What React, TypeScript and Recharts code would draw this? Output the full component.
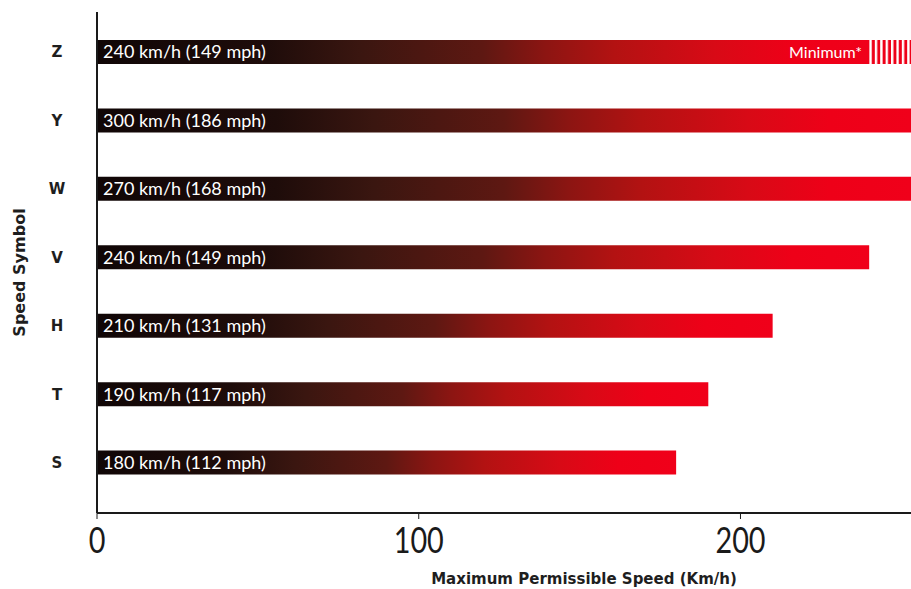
import { Bar, BarChart, LabelList, XAxis, YAxis } from "recharts"

const symbols = ["Z", "Y", "W", "V", "H", "T", "S"]
const speeds = [240, 300, 270, 240, 210, 190, 180]
const speedLabels = [
  "240 km/h (149 mph)",
  "300 km/h (186 mph)",
  "270 km/h (168 mph)",
  "240 km/h (149 mph)",
  "210 km/h (131 mph)",
  "190 km/h (117 mph)",
  "180 km/h (112 mph)",
]
// Z is open ended: the rated speed is a minimum, drawn as a striped tail
const openEnded = [60, 0, 0, 0, 0, 0, 0]
const notes = ["Minimum*", "", "", "", "", "", ""]
const xTicks = [0, 100, 200]

const data = symbols.map((s, i) => ({
  symbol: s,
  speed: speeds[i],
  extra: openEnded[i],
  label: speedLabels[i],
  note: notes[i],
}))

const font = "Lato, 'Open Sans', sans-serif"
const boldFont = "'DejaVu Sans', sans-serif"

function SymbolTick({ x, y, payload }: any) {
  return (
    <text x={x} y={y} dy="0.35em" textAnchor="middle" fontFamily={boldFont} fontWeight={700} fontSize={15} fill="#1e1e1e">
      {payload.value}
    </text>
  )
}

// narrow, tall numerals like the original print
function SpeedTick({ x, y, payload }: any) {
  return (
    <g transform={`translate(${x},${y})`}>
      <text transform="scale(0.8,1)" x={0} y={34} textAnchor="middle" fontFamily={font} fontSize={36} fill="#1a1a1a">
        {payload.value}
      </text>
    </g>
  )
}

function NoteLabel({ x, y, height, value }: any) {
  if (!value) return null
  return (
    <text x={x - 7} y={y + height / 2} dy="0.35em" textAnchor="end" fontFamily={font} fontSize={16} fill="#fff">
      {value}
    </text>
  )
}

export default function App() {
  return (
    <div style={{ position: "absolute", left: 0, top: 0, background: "#fff" }}>
      <BarChart
        width={911}
        height={589}
        data={data}
        layout="vertical"
        margin={{ top: 12, right: 0, bottom: 0, left: 0 }}
        barSize={24}
      >
        <defs>
          <linearGradient id="speedGrad" x1="0" y1="0" x2="1" y2="0">
            <stop offset="0%" stopColor="#100606" />
            <stop offset="22%" stopColor="#1e0c0a" />
            <stop offset="34%" stopColor="#3a1610" />
            <stop offset="50%" stopColor="#5e1812" />
            <stop offset="58%" stopColor="#8c1512" />
            <stop offset="67%" stopColor="#b31212" />
            <stop offset="80%" stopColor="#d80a16" />
            <stop offset="90%" stopColor="#ee0018" />
            <stop offset="100%" stopColor="#f0001a" />
          </linearGradient>
          <pattern id="stripes" width="5.4" height="10" patternUnits="userSpaceOnUse">
            <rect x="0" y="0" width="5.4" height="10" fill="#fff" />
            <rect x="2.4" y="0" width="3" height="10" fill="#ee0018" />
          </pattern>
        </defs>
        <XAxis
          type="number"
          domain={[0, 253]}
          allowDataOverflow
          ticks={xTicks}
          height={76}
          axisLine={{ stroke: "#1a1a1a", strokeWidth: 2 }}
          tickLine={{ stroke: "#1a1a1a" }}
          tickSize={6}
          tickMargin={0}
          tick={<SpeedTick />}
          label={{
            value: "Maximum Permissible Speed (Km/h)",
            position: "insideBottom",
            offset: 5,
            dx: 80,
            fontFamily: boldFont,
            fontWeight: 700,
            fontSize: 15,
            fill: "#1e1e1e",
          }}
        />
        <YAxis
          type="category"
          dataKey="symbol"
          width={97}
          padding={{ top: 6, bottom: 16 }}
          axisLine={{ stroke: "#1a1a1a", strokeWidth: 2 }}
          tickLine={false}
          tickSize={0}
          tickMargin={40}
          tick={<SymbolTick />}
          label={{
            content: ({ viewBox }: any) => {
              const cy = viewBox.y + viewBox.height / 2 + 10
              return (
                <text
                  x={19}
                  y={cy}
                  transform={`rotate(-90, 19, ${cy})`}
                  textAnchor="middle"
                  dy="0.35em"
                  fontFamily={boldFont}
                  fontWeight={700}
                  fontSize={16}
                  fill="#1e1e1e"
                >
                  Speed Symbol
                </text>
              )
            },
          }}
        />
        <Bar dataKey="speed" stackId="a" fill="url(#speedGrad)" isAnimationActive={false}>
          <LabelList dataKey="label" position="insideLeft" offset={6} fill="#fff" fontFamily={font} fontSize={18} />
        </Bar>
        <Bar dataKey="extra" stackId="a" fill="url(#stripes)" isAnimationActive={false}>
          <LabelList dataKey="note" content={<NoteLabel />} />
        </Bar>
      </BarChart>
    </div>
  )
}
